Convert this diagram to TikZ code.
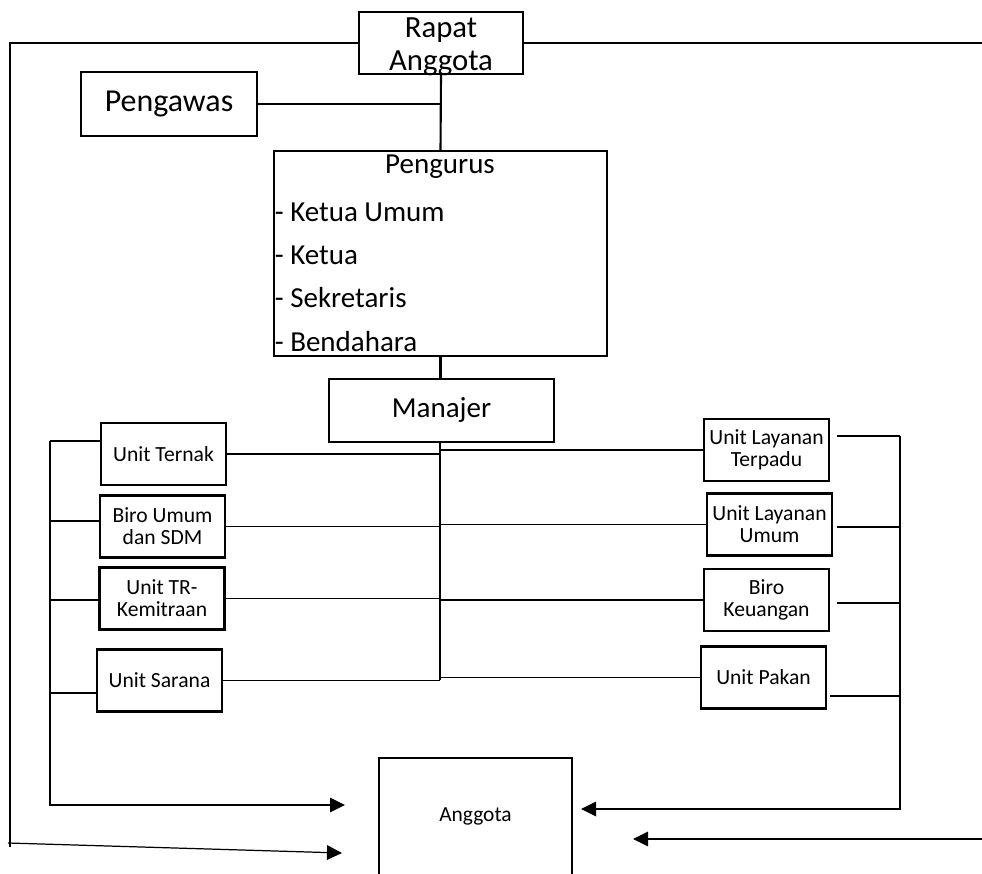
\documentclass[tikz,border=0pt]{standalone}
\usepackage{fontspec}
\setmainfont{Carlito}
\usetikzlibrary{arrows.meta,calc}

\begin{document}
\begin{tikzpicture}[x=0.02cm,y=-0.02cm,
	box/.style={draw,line width=1.1pt,inner sep=0pt,align=center,font=\fontsize{16.5}{20}\selectfont},
	unit/.style={draw,line width=1.2pt,inner sep=0pt,align=center,minimum width=2.5cm,minimum height=1.24cm,font=\fontsize{12.3}{12.6}\selectfont},
	item/.style={anchor=west,inner sep=0pt,font=\fontsize{16.5}{20}\selectfont},
	link/.style={line width=0.7pt},
	trunk/.style={line width=1.2pt},
	arr/.style={line width=0.7pt,-{Triangle[length=0.3cm,width=0.29cm]}}]
	\useasboundingbox (0,0) rectangle (982,874);
	%========
	%Top
	%========
	\node[box,minimum width=3.28cm,minimum height=1.24cm] (rapat) at (441,43) {};
	\node[align=center,inner sep=0pt,font=\fontsize{17.5}{18.5}\selectfont] (rapat-text) at (441,47) {Rapat\\Anggota};
	\node[box,minimum width=3.52cm,minimum height=1.28cm,font=\fontsize{18.2}{20}\selectfont] (pengawas) at (169,104) {Pengawas};
	
	\node[box,minimum width=6.66cm,minimum height=4.1cm] (pengurus) at (440.5,253.5) {};
	\node[font=\fontsize{16.5}{20}\selectfont,inner sep=0pt] (pg-title) at (440,167) {Pengurus};
	\node[item] (pg-umum) at (274.5,212) {- Ketua Umum};
	\node[item] (pg-ketua) at (274.5,255) {- Ketua};
	\node[item] (pg-sekr) at (274.5,298) {- Sekretaris};
	\node[item] (pg-bend) at (274.5,342) {- Bendahara};
	
	\node[box,minimum width=4.5cm,minimum height=1.26cm] (manajer) at (441.5,410.5) {Manajer};
	
	\draw[trunk] (rapat.south) -- (pengurus.north);
	\draw[trunk] (pengawas.east) -- (pengawas.east -| rapat.south);
	\draw[trunk] (pengurus.south) -- (pengurus.south |- manajer.north);
	
	%========
	%Units
	%========
	\node[unit] (ternak) at (163.5,454) {Unit Ternak};
	\node[unit] (biroumum) at (162.5,526.5) {Biro Umum\\dan SDM};
	\node[unit] (kemitraan) at (162,598.5) {Unit TR-\\Kemitraan};
	\node[unit] (sarana) at (159.5,680.5) {Unit Sarana};
	
	\node[unit] (terpadu) at (766.5,450) {Unit Layanan\\Terpadu};
	\node[unit] (layumum) at (769.5,524.5) {Unit Layanan\\Umum};
	\node[unit] (keuangan) at (766.5,600) {Biro\\Keuangan};
	\node[unit] (pakan) at (763.5,677.5) {Unit Pakan};
	
	\coordinate (spine) at (440,442);
	\coordinate (spine-end) at (440,680);
	\draw[trunk] (spine) -- (spine-end);
	
	\draw[link] (ternak.east) -- (ternak.east -| spine);
	\draw[link] (biroumum.east) -- (biroumum.east -| spine);
	\draw[link] (kemitraan.east) -- (kemitraan.east -| spine);
	\draw[link] (sarana.east) -- (sarana.east -| spine);
	
	\draw[link] (terpadu.west) -- (terpadu.west -| spine);
	\draw[link] (layumum.west) -- (layumum.west -| spine);
	\draw[link] (keuangan.west) -- (keuangan.west -| spine);
	\draw[link] (pakan.west) -- (pakan.west -| spine);
	
	%========
	%Anggota
	%========
	\node[inner sep=0pt,minimum width=3.86cm,minimum height=2.32cm,font=\fontsize{12.2}{12.6}\selectfont] (anggota) at (475.5,816) {Anggota};
	\draw[line width=1.2pt] (anggota.south west) |- (anggota.north east) -- (anggota.south east);
	
	%left bus
	\coordinate (lb1) at (50,441);
	\coordinate (lb2) at (50,521);
	\coordinate (lb3) at (50,600);
	\coordinate (lb4) at (50,693);
	\coordinate (lb-tip) at (345,805);
	\draw[link] (lb1) -- (lb1 -| ternak.west);
	\draw[link] (lb2) -- (lb2 -| biroumum.west);
	\draw[link] (lb3) -- (lb3 -| kemitraan.west);
	\draw[link] (lb4) -- (lb4 -| sarana.west);
	\draw[arr] (lb1) |- (lb-tip);
	
	%right bus
	\coordinate (rb1) at (900,436);
	\coordinate (rb2) at (900,527);
	\coordinate (rb3) at (900,603);
	\coordinate (rb4) at (900,696);
	\coordinate (rb-tip) at (581,809);
	\draw[link] (rb1) -- ($(rb1 -| terpadu.east)+(7,0)$);
	\draw[link] (rb2) -- ($(rb2 -| layumum.east)+(4,0)$);
	\draw[link] (rb3) -- ($(rb3 -| keuangan.east)+(7,0)$);
	\draw[link] (rb4) -- ($(rb4 -| pakan.east)+(3,0)$);
	\draw[arr] (rb1) |- (rb-tip);
	
	%outer loop
	\coordinate (outer-l) at (10,847);
	\coordinate (outer-r) at (982,43);
	\draw[link] (rapat.west) -| (outer-l);
	\draw[link] (rapat.east) -- (outer-r);
	
	\coordinate (low-l) at (8,843);
	\coordinate (low-l-tip) at (342,853);
	\draw[arr] (low-l) -- (low-l-tip);
	\coordinate (low-r) at (982,839);
	\coordinate (low-r-tip) at (633,839);
	\draw[arr] (low-r) -- (low-r-tip);
\end{tikzpicture}
\end{document}
